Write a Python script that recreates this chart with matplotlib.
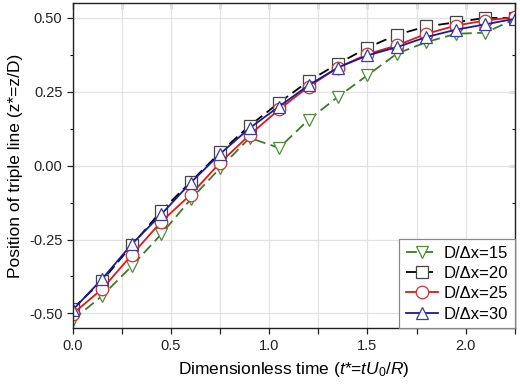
import matplotlib
matplotlib.use("Agg")
import matplotlib.pyplot as plt
from matplotlib.ticker import MultipleLocator, FuncFormatter

plt.rcParams['font.family'] = ['Liberation Sans', 'DejaVu Sans']
plt.rcParams['mathtext.fontset'] = 'custom'
plt.rcParams['mathtext.rm'] = 'Liberation Sans'
plt.rcParams['mathtext.it'] = 'Liberation Sans:italic'

t = [0.0, 0.15, 0.3, 0.45, 0.6, 0.75, 0.9, 1.05, 1.2, 1.35, 1.5, 1.65, 1.8, 1.95, 2.1, 2.25]
z15 = [-0.522, -0.44, -0.34, -0.232, -0.114, -0.008, 0.094, 0.06, 0.155, 0.233, 0.306, 0.379, 0.418, 0.446, 0.45, 0.496]
z20 = [-0.484, -0.389, -0.27, -0.154, -0.055, 0.045, 0.135, 0.213, 0.286, 0.345, 0.399, 0.443, 0.471, 0.485, 0.50, 0.50]
z25 = [-0.501, -0.417, -0.302, -0.19, -0.098, 0.01, 0.104, 0.19, 0.267, 0.332, 0.377, 0.407, 0.446, 0.474, 0.491, 0.502]
z30 = [-0.488, -0.383, -0.266, -0.165, -0.058, 0.04, 0.127, 0.2, 0.272, 0.332, 0.373, 0.401, 0.435, 0.46, 0.478, 0.497]
labels = ['D/\u0394x=15', 'D/\u0394x=20', 'D/\u0394x=25', 'D/\u0394x=30']

fig = plt.figure(figsize=(5.2, 3.87), dpi=100)
ax = fig.add_axes([0.140, 0.152, 0.850, 0.840])

common = dict(lw=1.3, markersize=9, markerfacecolor='white', markeredgewidth=0.9)
ax.plot(t, z15, color='#3f7a2a', ls=(0, (6, 3)), marker='v', markeredgecolor='#4e8a38', label=labels[0], **common)
ax.plot(t, z20, color='black', ls=(0, (6, 3)), marker='s', markeredgecolor='#444444', label=labels[1], **dict(common, markersize=8))
ax.plot(t, z25, color='#e01818', ls='-', marker='o', markeredgecolor='#cc3333', label=labels[2], **common)
ax.plot(t, z30, color='#1a1a9a', ls='-', marker='^', markeredgecolor='#3a3aa8', label=labels[3], **common)

ax.set_xlim(0, 2.25)
ax.set_ylim(-0.55, 0.55)
ax.xaxis.set_major_locator(MultipleLocator(0.25))
ax.xaxis.set_major_formatter(FuncFormatter(lambda v, p: ('%.1f' % v) if abs(v / 0.5 - round(v / 0.5)) < 1e-6 else ''))
ax.yaxis.set_major_locator(MultipleLocator(0.25))
ax.yaxis.set_minor_locator(MultipleLocator(0.125))
ax.yaxis.set_major_formatter(FuncFormatter(lambda v, p: '%.2f' % v))
ax.grid(True, which='major', color='#e2e2e2', lw=0.9)
ax.set_axisbelow(True)
ax.tick_params(which='major', direction='out', length=4, width=0.9, labelsize=10.5, colors='#222222')
ax.tick_params(which='minor', direction='out', length=2.5, width=0.8)
for s in ax.spines.values():
    s.set_color('#222222')
    s.set_linewidth(1.0)

# mirrored ticks pointing inward on top and right
secx = ax.secondary_xaxis('top')
secx.xaxis.set_major_locator(MultipleLocator(0.25))
secx.tick_params(direction='in', length=4, width=0.9, labeltop=False)
secx.spines['top'].set_visible(False)
secy = ax.secondary_yaxis('right')
secy.yaxis.set_major_locator(MultipleLocator(0.25))
secy.yaxis.set_minor_locator(MultipleLocator(0.125))
secy.tick_params(which='major', direction='in', length=4, width=0.9, labelright=False)
secy.tick_params(which='minor', direction='in', length=2.5, width=0.8)
secy.spines['right'].set_visible(False)

ax.set_xlabel(r'Dimensionless time ($t$*=$tU_0/R$)', fontsize=12.5, labelpad=5)
ax.set_ylabel('Position of triple line (z*=z/D)', fontsize=12.5, labelpad=4)

leg = ax.legend(loc='lower right', bbox_to_anchor=(1.0, 0.0), borderaxespad=0, fontsize=12,
                frameon=True, fancybox=False, edgecolor='#888888', framealpha=1,
                handlelength=1.9, handletextpad=0.35, labelspacing=0.32, borderpad=0.4)
leg.get_frame().set_linewidth(0.9)

fig.savefig('out.png', dpi=100)
